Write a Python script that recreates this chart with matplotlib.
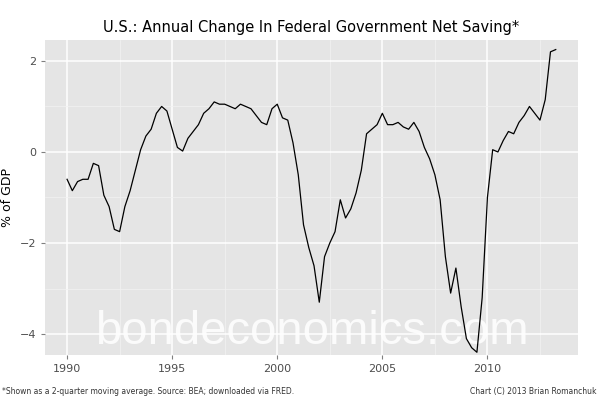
import numpy as np
import matplotlib.pyplot as plt

# quarterly values, starting 1990 Q1
start_year = 1990.0
net_saving = [
    -0.6, -0.85, -0.65, -0.6, -0.6, -0.25, -0.3, -0.95,
    -1.2, -1.7, -1.75, -1.2, -0.85, -0.4, 0.05, 0.35,
    0.5, 0.85, 1.0, 0.9, 0.5, 0.1, 0.02, 0.3,
    0.45, 0.6, 0.85, 0.95, 1.1, 1.05, 1.05, 1.0,
    0.95, 1.05, 1.0, 0.95, 0.8, 0.65, 0.6, 0.95,
    1.05, 0.75, 0.7, 0.2, -0.5, -1.6, -2.1, -2.5,
    -3.3, -2.3, -2.0, -1.75, -1.05, -1.45, -1.25, -0.9,
    -0.4, 0.4, 0.5, 0.6, 0.85, 0.6, 0.6, 0.65,
    0.55, 0.5, 0.65, 0.45, 0.1, -0.15, -0.5, -1.05,
    -2.3, -3.1, -2.55, -3.4, -4.1, -4.3, -4.4, -3.2,
    -1.0, 0.05, 0.0, 0.25, 0.45, 0.4, 0.65, 0.8,
    1.0, 0.85, 0.7, 1.15, 2.2, 2.25,
]
years = start_year + 0.25 * np.arange(len(net_saving))

fig = plt.figure(figsize=(6, 4), dpi=100)
ax = fig.add_axes([0.075, 0.1125, 0.888, 0.7875])
ax.set_facecolor("#e5e5e5")
for s in ax.spines.values():
    s.set_visible(False)

ax.set_xticks([1990, 1995, 2000, 2005, 2010])
ax.set_yticks([-4, -2, 0, 2])
ax.set_xticks(np.arange(1987.5, 2015, 5), minor=True)
ax.set_yticks([-5, -3, -1, 1], minor=True)
ax.set_xlim(1988.95, 2014.3)
ax.set_ylim(-4.46, 2.46)
ax.grid(True, which="major", color="white", lw=1.1)
ax.grid(True, which="minor", color="#f2f2f2", lw=0.5)
ax.tick_params(which="both", length=3, color="#7f7f7f", labelsize=8, labelcolor="#4d4d4d")
ax.tick_params(which="minor", length=0)
ax.set_axisbelow(True)

ax.text(0.5, 0.035, "bondeconomics.com", transform=ax.transAxes, ha="center",
        fontsize=34, color="white", alpha=0.85, family="Liberation Sans", zorder=1.5)
ax.plot(years, net_saving, color="black", lw=0.9, zorder=3)

ax.set_ylabel("% of GDP", fontsize=9)
ax.set_title("U.S.: Annual Change In Federal Government Net Saving*", fontsize=10.5)

fig.text(0.003, 0.015, "*Shown as a 2-quarter moving average. Source: BEA; downloaded via FRED.",
         fontsize=5.5, color="#333333")
fig.text(0.995, 0.015, "Chart (C) 2013 Brian Romanchuk", fontsize=5.5, ha="right", color="#333333")

fig.savefig("out.png", dpi=100)
